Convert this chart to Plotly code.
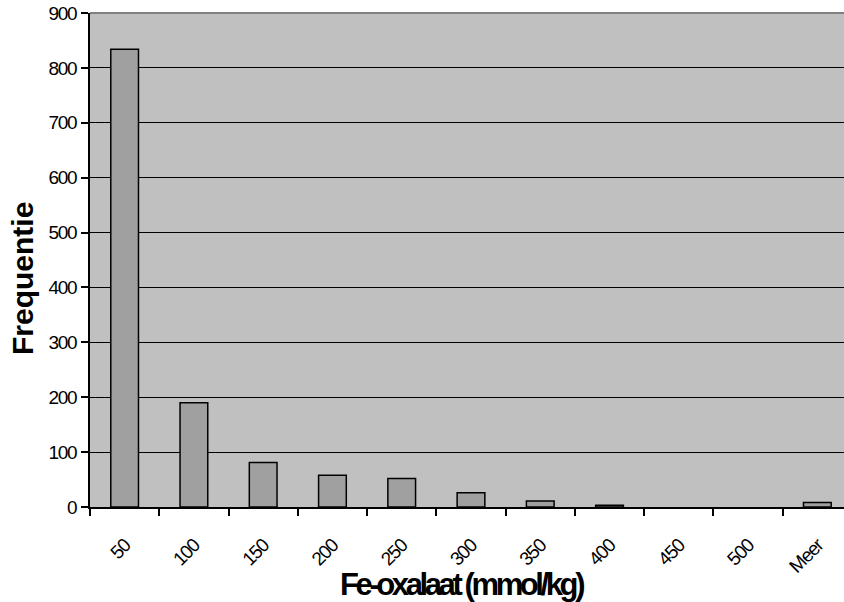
import plotly.graph_objects as go

categories = ["50", "100", "150", "200", "250", "300", "350", "400", "450", "500", "Meer"]
frequencies = [834, 190, 81, 58, 52, 26, 11, 3, 0, 0, 8]
y_ticks = [0, 100, 200, 300, 400, 500, 600, 700, 800, 900]

FONT = "Liberation Sans, Arial, sans-serif"

# no outline for empty bins (Excel draws nothing there)
outline_widths = [1.5 if v > 0 else 0 for v in frequencies]

fig = go.Figure(
    go.Bar(
        x=categories,
        y=frequencies,
        marker=dict(color="#A0A0A0", line=dict(color="black", width=outline_widths)),
    )
)

fig.update_layout(
    width=844,
    height=602,
    margin=dict(l=90, r=0, t=13, b=95),
    paper_bgcolor="white",
    plot_bgcolor="#C0C0C0",
    bargap=0.6,
    showlegend=False,
    font=dict(family=FONT, color="black", size=19),
)

fig.update_xaxes(
    type="category",
    range=[-0.5, 10.385],
    tickson="boundaries",
    ticks="outside",
    ticklen=7,
    tickwidth=2,
    tickcolor="black",
    tickangle=-45,
    ticklabelstandoff=18,
    showline=True,
    linecolor="black",
    linewidth=2,
    showgrid=False,
    tickfont=dict(size=19, family=FONT),
)

fig.update_yaxes(
    range=[0, 900],
    tickvals=y_ticks,
    ticks="outside",
    ticklen=7,
    tickwidth=2,
    tickcolor="black",
    showline=True,
    linecolor="black",
    linewidth=2,
    showgrid=True,
    gridcolor="black",
    gridwidth=1,
    zeroline=False,
    ticklabelstandoff=1,
    tickfont=dict(size=19, family=FONT),
)

# axis titles placed as annotations (Excel centres them on the chart area)
fig.add_annotation(
    text="<b>Fe-oxalaat (mmol/kg)</b>",
    xref="paper", yref="paper", x=0.492, y=0, yshift=-77,
    xanchor="center", yanchor="middle", showarrow=False,
    font=dict(size=31, family=FONT),
)
fig.add_annotation(
    text="<b>Frequentie</b>",
    xref="paper", yref="paper", x=0, y=0.4615, xshift=-68,
    xanchor="center", yanchor="middle", textangle=-90, showarrow=False,
    font=dict(size=30, family=FONT),
)

# grey plot-area border along the top
fig.add_shape(type="line", xref="paper", yref="paper", x0=0, x1=1, y0=1, y1=1,
              line=dict(color="#808080", width=2))

# the original uses tightly spaced lettering
post = """
var gd = document.getElementById('{plot_id}');
function tighten(){
  var ann = gd.querySelectorAll('.annotation-text');
  if (ann.length) { ann[0].style.letterSpacing = '-3.4px'; }
  gd.querySelectorAll('.xtick text, .ytick text').forEach(function(t){
    t.style.letterSpacing = '-1.3px';
  });
}
tighten();
gd.on('plotly_afterplot', tighten);
"""

fig.write_html("out.html", post_script=post)
